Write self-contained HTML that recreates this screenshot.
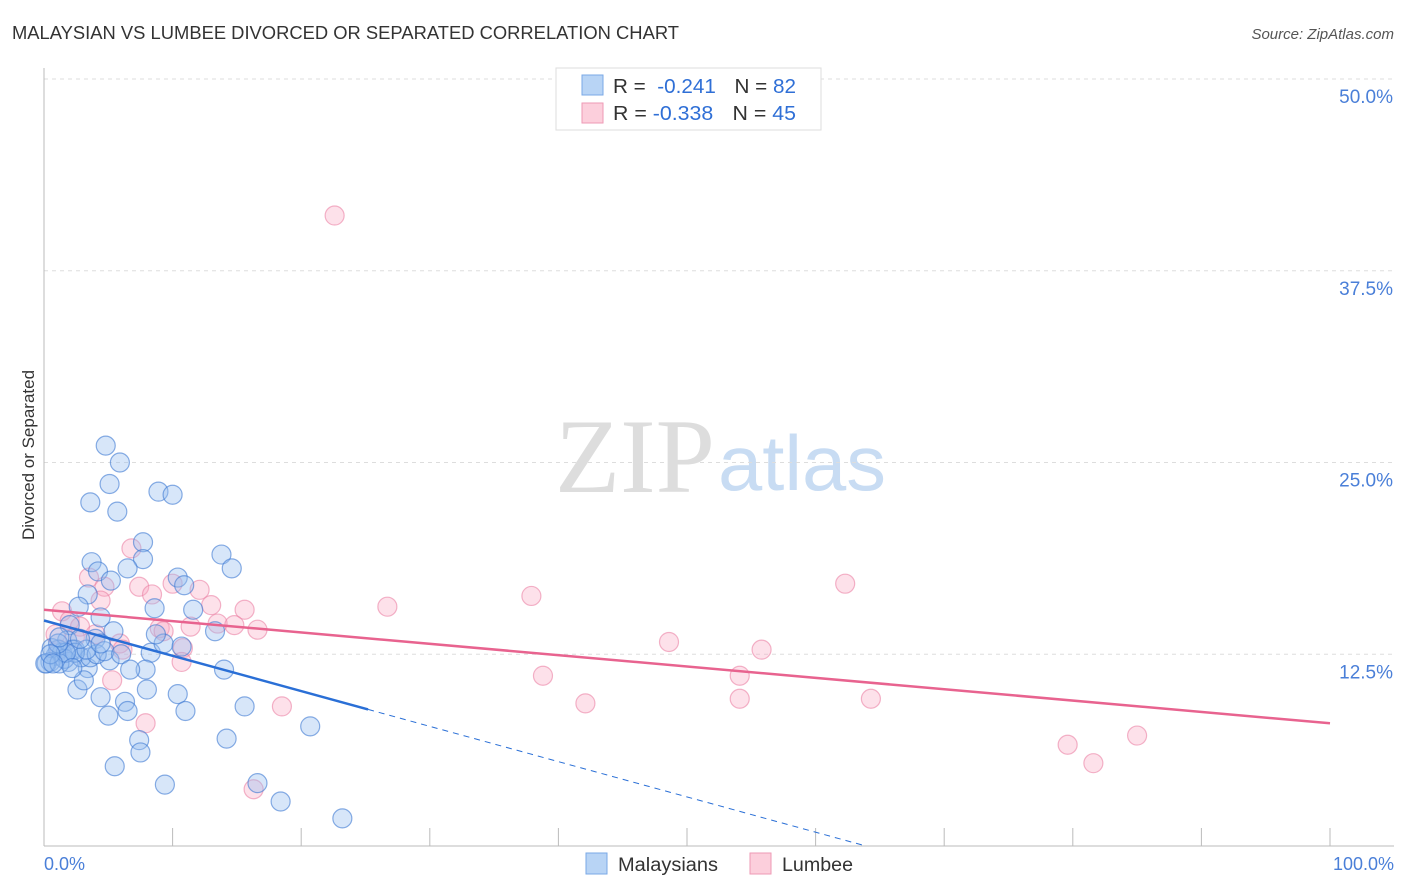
<!DOCTYPE html>
<html><head><meta charset="utf-8"><style>
body{margin:0;background:#fff;width:1406px;height:892px;overflow:hidden;font-family:"Liberation Sans",sans-serif}
svg{position:absolute;left:0;top:0}
</style></head><body>
<svg id="chart" width="1406" height="892">
<text x="12" y="39" font-size="18" fill="#333" textLength="667" lengthAdjust="spacingAndGlyphs">MALAYSIAN VS LUMBEE DIVORCED OR SEPARATED CORRELATION CHART</text>
<text x="1394" y="39" font-size="15" fill="#555" font-style="italic" text-anchor="end">Source: ZipAtlas.com</text>
<text x="555" y="492" font-size="106" fill="#ddd" font-family="Liberation Serif,serif" textLength="160" lengthAdjust="spacingAndGlyphs">ZIP</text>
<text x="718" y="490" font-size="78" fill="#c8dcf3" textLength="168" lengthAdjust="spacingAndGlyphs">atlas</text>
<text transform="translate(34,455) rotate(-90)" font-size="17" fill="#333" text-anchor="middle">Divorced or Separated</text>
<g id="grid"></g><g id="pts"></g><g id="lines"></g>
<g>
<rect x="556" y="68" width="265" height="62" fill="#fff" stroke="#ddd"/>
<rect x="582" y="75" width="21" height="20" fill="#b8d4f5" stroke="#7aa8e6"/>
<rect x="582" y="103" width="21" height="20" fill="#fccfdc" stroke="#ee9ab5"/>
<text x="613" y="93" font-size="20" fill="#333" textLength="183" lengthAdjust="spacingAndGlyphs">R = <tspan fill="#2f6fd6">&#160;-0.241</tspan><tspan dx="18">N = </tspan><tspan fill="#2f6fd6">82</tspan></text>
<text x="613" y="120" font-size="20" fill="#333" textLength="183" lengthAdjust="spacingAndGlyphs">R = <tspan fill="#2f6fd6">-0.338</tspan><tspan dx="18">N = </tspan><tspan fill="#2f6fd6">45</tspan></text>
</g>
<text x="44" y="870" font-size="18" fill="#4a7fd8">0.0%</text>
<text x="1394" y="870" font-size="18" fill="#4a7fd8" text-anchor="end">100.0%</text>
<rect x="586" y="853" width="21" height="21" fill="#b8d4f5" stroke="#7aa8e6"/>
<text x="618" y="871" font-size="19" fill="#333" textLength="100" lengthAdjust="spacingAndGlyphs">Malaysians</text>
<rect x="750" y="853" width="21" height="21" fill="#fccfdc" stroke="#ee9ab5"/>
<text x="782" y="871" font-size="19" fill="#333" textLength="71" lengthAdjust="spacingAndGlyphs">Lumbee</text>
</svg>
<script>
const yTicks=[12.5,25,37.5,50];
const yTickLabels=["12.5%","25.0%","37.5%","50.0%"];
const blueX=[4.8,5.9,5.1,3.6,5.7,8.9,10.0,7.7,7.7,13.8,14.6,3.7,4.2,5.2,6.5,10.4,10.9,3.4,2.7,4.4,8.6,11.6,5.4,2.0,1.8,4.0,2.4,5.1,8.3,9.3,8.7,10.7,13.3,14.0,7.9,3.4,2.6,3.1,4.4,5.0,6.3,6.5,8.0,10.4,11.0,15.6,7.4,7.5,5.5,9.4,14.2,16.6,18.4,20.7,23.2,0.9,1.1,1.4,0.5,0.2,0.6,1.9,2.2,1.6,2.9,3.6,0.1,1.2,2.4,1.7,4.1,3.3,2.2,4.7,1.1,2.8,4.4,6.0,6.7,0.5,0.7,1.2];
const blueY=[26.1,25.0,23.6,22.4,21.8,23.1,22.9,19.8,18.7,19.0,18.1,18.5,17.9,17.3,18.1,17.5,17.0,16.4,15.6,14.9,15.5,15.4,14.0,14.4,13.4,13.5,12.8,12.1,12.6,13.2,13.8,13.0,14.0,11.5,11.5,11.6,10.2,10.8,9.7,8.5,9.4,8.8,10.2,9.9,8.8,9.1,6.9,6.1,5.2,4.0,7.0,4.1,2.9,7.8,1.8,12.4,12.8,12.6,12.0,11.9,12.9,12.0,12.8,12.2,12.3,12.3,11.9,11.9,12.6,12.6,12.5,12.8,11.6,12.7,13.2,13.5,13.2,12.5,11.5,12.5,11.9,13.6];
const pinkX=[22.6,6.8,3.5,4.7,7.4,8.4,10.0,12.1,13.0,15.6,4.4,1.4,2.0,2.8,0.9,5.9,6.1,9.0,9.3,11.4,13.5,14.8,16.6,10.8,10.7,5.3,7.9,18.5,26.7,37.9,62.3,48.6,55.8,38.8,54.1,54.1,42.1,64.3,79.6,81.6,85.0,16.3,2.4,4.0,1.2];
const pinkY=[41.1,19.4,17.5,16.9,16.9,16.4,17.1,16.7,15.7,15.4,16.0,15.3,14.7,14.3,13.8,13.2,12.8,14.2,14.0,14.3,14.5,14.4,14.1,12.9,12.0,10.8,8.0,9.1,15.6,16.3,17.1,13.3,12.8,11.1,11.1,9.6,9.3,9.6,6.6,5.4,7.2,3.7,13.6,13.8,12.8];
const blueTrend=[14.7,-0.23]; const blueSolidEnd=25.2;
const pinkTrend=[15.4,-0.074];
const X=v=>44+v*12.86, Y=v=>846-v*15.34;
const NS="http://www.w3.org/2000/svg";
function mk(t,a,p){const e=document.createElementNS(NS,t);for(const k in a)e.setAttribute(k,a[k]);p.appendChild(e);return e;}
const grid=document.getElementById('grid');
yTicks.forEach((t,i)=>{
 const l=mk('line',{x1:44,x2:1394,y1:Y(t),y2:Y(t),stroke:'#ddd','stroke-dasharray':'4,4'},grid);
 
 
 const tx=mk('text',{x:1393,y:Y(t)+24,'font-size':19,fill:'#4a7fd8','text-anchor':'end'},grid);
 tx.textContent=yTickLabels[i];
 
 
});
const ax=mk('line',{x1:44,x2:44,y1:68,y2:846,stroke:'#bbb'},grid);


const bx=mk('line',{x1:44,x2:1394,y1:846,y2:846,stroke:'#bbb'},grid);


for(let i=0;i<=10;i++){const tk=mk('line',{x1:X(i*10),x2:X(i*10),y1:828,y2:846,stroke:'#bbb'},grid);
 
 }
const pts=document.getElementById('pts');
pinkX.forEach((x,i)=>{const c=mk('circle',{cx:X(x),cy:Y(pinkY[i]),r:9.5,fill:'rgba(248,170,195,0.35)',stroke:'rgba(235,130,165,0.6)','stroke-width':1.2},pts);
 
 });
blueX.forEach((x,i)=>{const c=mk('circle',{cx:X(x),cy:Y(blueY[i]),r:9.5,fill:'rgba(150,190,240,0.38)',stroke:'rgba(60,120,210,0.6)','stroke-width':1.2},pts);
 
 });
const lines=document.getElementById('lines');
const zeroX=-blueTrend[0]/blueTrend[1];
const bl=mk('line',{x1:X(0),y1:Y(blueTrend[0]),x2:X(blueSolidEnd),y2:Y(blueTrend[0]+blueTrend[1]*blueSolidEnd),stroke:'#2a6fd6','stroke-width':2.5},lines);


const bd=mk('line',{x1:X(blueSolidEnd),y1:Y(blueTrend[0]+blueTrend[1]*blueSolidEnd),x2:X(zeroX),y2:Y(0),stroke:'#2a6fd6','stroke-width':1,'stroke-dasharray':'6,5'},lines);


const pl=mk('line',{x1:X(0),y1:Y(pinkTrend[0]),x2:X(100),y2:Y(pinkTrend[0]+pinkTrend[1]*100),stroke:'#e8638f','stroke-width':2.5},lines);


</script>
</body></html>
